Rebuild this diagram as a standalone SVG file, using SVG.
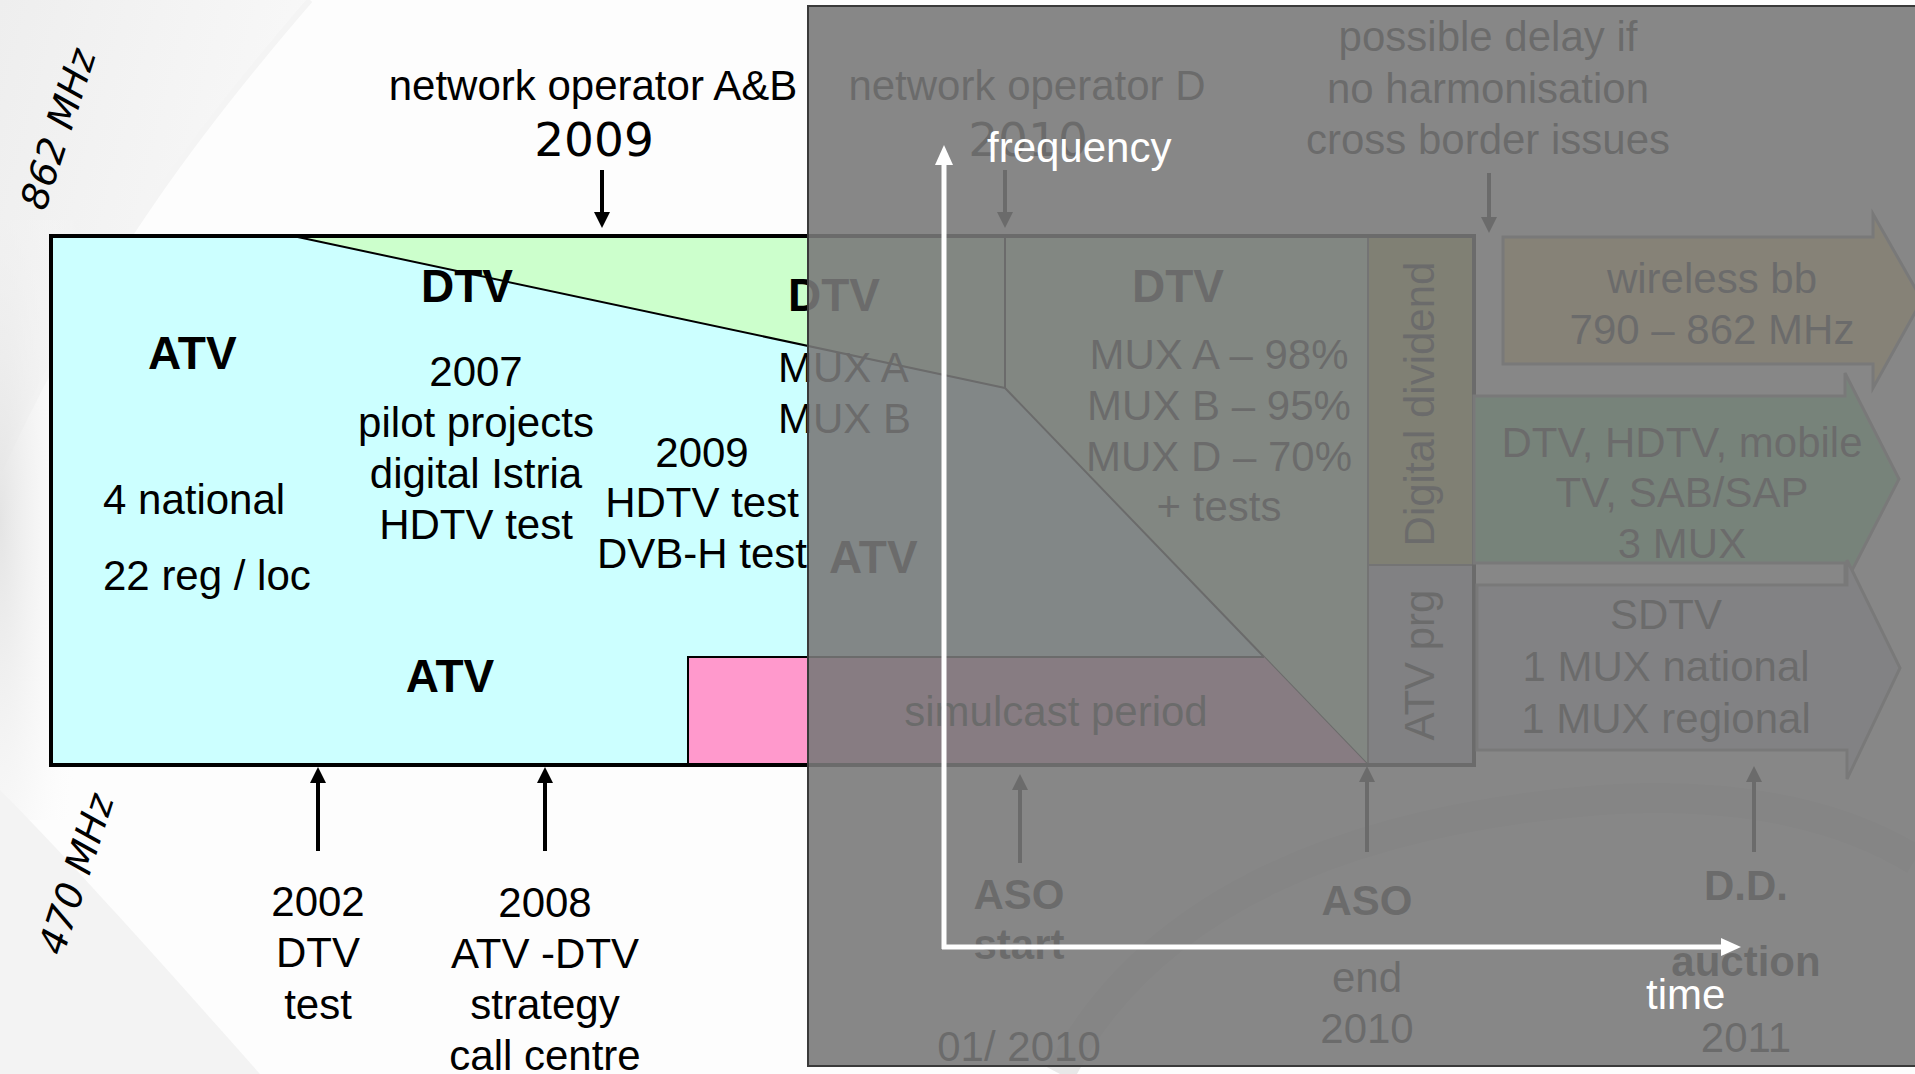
<svg xmlns="http://www.w3.org/2000/svg" width="1915" height="1074" viewBox="0 0 1915 1074">
<defs>
  <marker id="ah" viewBox="0 0 16 16" refX="1" refY="8" markerWidth="16" markerHeight="16" markerUnits="userSpaceOnUse" orient="auto"><path d="M0,0 L16,8 L0,16 Z" fill="#000"/></marker>
  <marker id="ahw" viewBox="0 0 20 18" refX="1" refY="9" markerWidth="20" markerHeight="18" markerUnits="userSpaceOnUse" orient="auto"><path d="M0,0 L20,9 L0,18 Z" fill="#fff"/></marker>
  <linearGradient id="sw1" x1="0" y1="0" x2="1" y2="0.4">
    <stop offset="0" stop-color="#eeeeee"/>
    <stop offset="1" stop-color="#f9f9f9"/>
  </linearGradient>
  <radialGradient id="edge" cx="0" cy="0.5" r="1">
    <stop offset="0" stop-color="#e4e4e4"/>
    <stop offset="1" stop-color="#ffffff" stop-opacity="0"/>
  </radialGradient>
</defs>
<style>
  .t{font-family:"Liberation Sans",Arial,sans-serif;font-size:42px;fill:#000}
  .m{text-anchor:middle}
  .b{font-weight:bold;font-size:46px}
  .b42{font-weight:bold;font-size:42px}
  .dj{font-family:"DejaVu Sans",sans-serif;font-size:47px;fill:#000}
  .rot{font-family:"DejaVu Sans",sans-serif;font-style:oblique;font-size:38px;fill:#000}
  .w{fill:#fff}
  .conn{stroke:#000;stroke-width:4;fill:none;marker-end:url(#ah)}
  .thin{stroke:#000;stroke-width:2;fill:none}
  .shape{stroke:#808080;stroke-width:3}
  .axis{stroke:#fff;stroke-width:5;fill:none;marker-end:url(#ahw)}
</style>

<g id="background">
  <rect x="0" y="0" width="1915" height="1074" fill="#fdfdfd"/>
  <path d="M0,0 L310,0 C215,110 95,260 0,470 Z" fill="url(#sw1)"/>
  <path d="M310,0 C215,110 95,260 0,470" fill="none" stroke="#f4f4f4" stroke-width="6"/>
  <rect x="0" y="220" width="90" height="600" fill="url(#edge)"/>
  <path d="M0,790 C60,850 150,950 260,1074 L0,1074 Z" fill="#f3f3f3"/>
  <path d="M1060,1074 C1150,900 1350,820 1600,800 C1750,790 1850,820 1915,860" fill="none" stroke="#e8e8e8" stroke-width="30"/>
</g>

<g id="band-atv">
  <rect x="51" y="236" width="1317" height="529" fill="#ccffff"/>
</g>
<g id="band-dtv-wedge">
  <polygon points="293,236 1005,236 1005,388" fill="#ccffcc"/>
</g>
<g id="band-dtv-main">
  <polygon points="1005,236 1368,236 1368,765 1005,388" fill="#ccffcc"/>
  <line class="thin" x1="293" y1="236" x2="1005" y2="388"/>
  <line class="thin" x1="1005" y1="236" x2="1005" y2="388"/>
  <line class="thin" x1="1005" y1="388" x2="1368" y2="765"/>
</g>
<g id="simulcast">
  <polygon points="688,657 1264,657 1368,765 688,765" fill="#ff99cc"/>
  <polyline class="thin" points="688,765 688,657 1264,657"/>
  <text class="t m" x="1056" y="726">simulcast period</text>
</g>
<g id="digital-dividend">
  <rect x="1368" y="236" width="106" height="329" fill="#bdbd50" stroke="#555" stroke-width="2"/>
  <text class="t m" transform="translate(1434,404) rotate(-90)">Digital dividend</text>
</g>
<g id="atv-prg">
  <rect x="1368" y="565" width="106" height="200" fill="#c4c4d4" stroke="#555" stroke-width="2"/>
  <text class="t m" transform="translate(1434,665) rotate(-90)">ATV prg</text>
</g>
<g id="band-frame">
  <rect x="51" y="236" width="1423" height="529" fill="none" stroke="#000" stroke-width="4"/>
</g>

<g id="labels-band">
  <text class="t b" x="148" y="369">ATV</text>
  <text class="t b" x="421" y="302">DTV</text>
  <text class="t m" x="476" y="386">2007</text>
  <text class="t m" x="476" y="437">pilot projects</text>
  <text class="t m" x="476" y="488">digital Istria</text>
  <text class="t m" x="476" y="539">HDTV test</text>
  <text class="t" x="103" y="514">4 national</text>
  <text class="t" x="103" y="590">22 reg / loc</text>
  <text class="t m" x="702" y="467">2009</text>
  <text class="t m" x="702" y="517">HDTV test</text>
  <text class="t m" x="702" y="568">DVB-H test</text>
  <text class="t b m" x="450" y="692">ATV</text>
  <text class="t b" x="788" y="311">DTV</text>
  <text class="t" x="778" y="382">MUX A</text>
  <text class="t" x="778" y="433">MUX B</text>
  <text class="t b" x="829" y="573">ATV</text>
  <text class="t b m" x="1178" y="302">DTV</text>
  <text class="t m" x="1219" y="369">MUX A – 98%</text>
  <text class="t m" x="1219" y="420">MUX B – 95%</text>
  <text class="t m" x="1219" y="471">MUX D – 70%</text>
  <text class="t m" x="1219" y="521">+ tests</text>
</g>

<g id="wireless-bb">
  <polygon class="shape" points="1503,237 1873,237 1873,214 1922,300 1873,388 1873,364 1503,364" fill="#f0cc70"/>
  <text class="t m" x="1712" y="293">wireless bb</text>
  <text class="t m" x="1712" y="344">790 – 862 MHz</text>
</g>
<g id="dtv-hdtv-arrow">
  <polygon class="shape" points="1474,396 1845,396 1845,373 1899,479 1845,584 1845,563 1474,563" fill="#72d88c"/>
  <text class="t m" x="1682" y="457">DTV, HDTV, mobile</text>
  <text class="t m" x="1682" y="507">TV, SAB/SAP</text>
  <text class="t m" x="1682" y="558">3 MUX</text>
</g>
<g id="sdtv-arrow">
  <polygon class="shape" points="1477,585 1847,585 1847,560 1900,668 1847,779 1847,750 1477,750" fill="#d2d2e2"/>
  <text class="t m" x="1666" y="629">SDTV</text>
  <text class="t m" x="1666" y="681">1 MUX national</text>
  <text class="t m" x="1666" y="733">1 MUX regional</text>
</g>

<g id="freq-labels">
  <text class="rot" transform="translate(45,212) rotate(-72)">862 MHz</text>
  <text class="rot" transform="translate(63,957) rotate(-72)">470 MHz</text>
</g>

<g id="event-operator-ab">
  <text class="t m" x="593" y="100">network operator A&amp;B</text>
  <text class="dj m" x="594" y="156">2009</text>
</g>
<g id="event-operator-d">
  <text class="t m" x="1027" y="100">network operator D</text>
  <text class="dj m" x="1028" y="156">2010</text>
</g>
<g id="event-delay">
  <text class="t m" x="1488" y="51">possible delay if</text>
  <text class="t m" x="1488" y="103">no harmonisation</text>
  <text class="t m" x="1488" y="154">cross border issues</text>
</g>
<g id="event-2002">
  <text class="t m" x="318" y="916">2002</text>
  <text class="t m" x="318" y="967">DTV</text>
  <text class="t m" x="318" y="1019">test</text>
</g>
<g id="event-2008">
  <text class="t m" x="545" y="917">2008</text>
  <text class="t m" x="545" y="968">ATV -DTV</text>
  <text class="t m" x="545" y="1019">strategy</text>
  <text class="t m" x="545" y="1070">call centre</text>
</g>
<g id="event-aso-start">
  <text class="t b42 m" x="1019" y="909">ASO</text>
  <text class="t b42 m" x="1019" y="959">start</text>
  <text class="t m" x="1019" y="1061">01/ 2010</text>
</g>
<g id="event-aso-end">
  <text class="t b42 m" x="1367" y="915">ASO</text>
  <text class="t m" x="1367" y="992">end</text>
  <text class="t m" x="1367" y="1043">2010</text>
</g>
<g id="event-dd-auction">
  <text class="t b42 m" x="1746" y="900">D.D.</text>
  <text class="t b42 m" x="1746" y="976">auction</text>
  <text class="t m" x="1746" y="1052">2011</text>
</g>

<g id="connectors">
  <line class="conn" x1="602" y1="170" x2="602" y2="213"/>
  <line class="conn" x1="1005" y1="170" x2="1005" y2="213"/>
  <line class="conn" x1="1489" y1="173" x2="1489" y2="218"/>
  <line class="conn" x1="318" y1="851" x2="318" y2="782"/>
  <line class="conn" x1="545" y1="851" x2="545" y2="782"/>
  <line class="conn" x1="1020" y1="863" x2="1020" y2="789"/>
  <line class="conn" x1="1367" y1="852" x2="1367" y2="781"/>
  <line class="conn" x1="1754" y1="852" x2="1754" y2="781"/>
</g>

<g id="overlay">
  <rect x="808" y="6" width="1115" height="1060" fill="#787878" fill-opacity="0.89" stroke="#3a3a3a" stroke-width="2"/>
</g>

<g id="axes">
  <line class="axis" x1="944" y1="949" x2="944" y2="164"/>
  <line class="axis" x1="942" y1="947" x2="1722" y2="947"/>
  <text class="t w" x="987" y="162">frequency</text>
  <text class="t w" x="1646" y="1009">time</text>
</g>
</svg>
